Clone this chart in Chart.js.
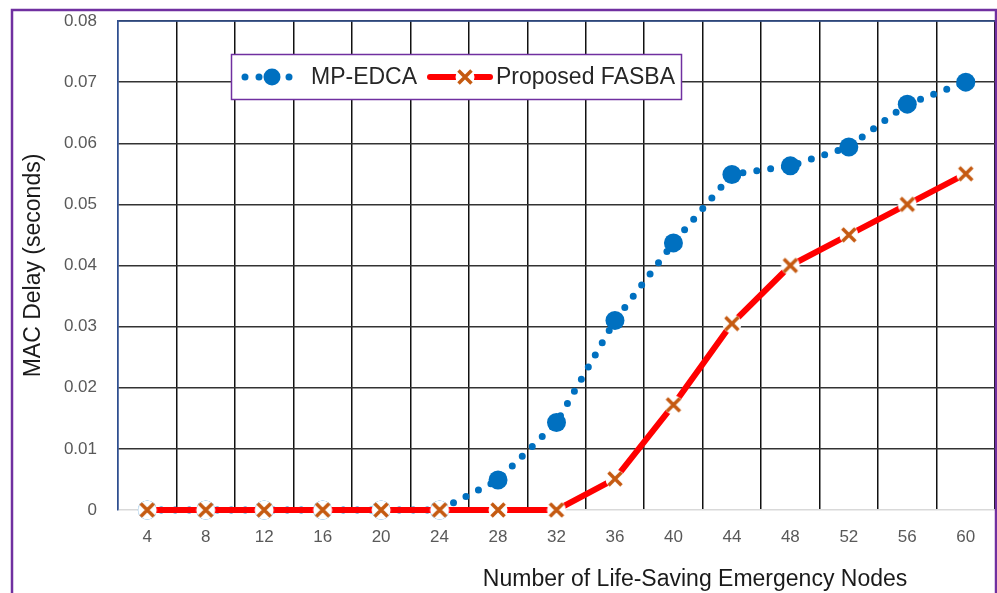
<!DOCTYPE html>
<html>
<head>
<meta charset="utf-8">
<script src="https://cdn.jsdelivr.net/npm/chart.js@4.4.1/dist/chart.umd.min.js"></script>
<style>
  html, body { margin: 0; padding: 0; background: #ffffff; }
  #wrap { width: 997px; height: 593px; position: relative; }
</style>
</head>
<body>
<div id="wrap"><canvas id="chart" width="997" height="593"></canvas></div>
<script>
// Number of life-saving emergency nodes
const nodeCounts = ['4', '8', '12', '16', '20', '24', '28', '32', '36', '40', '44', '48', '52', '56', '60'];
// MAC delay in seconds
const mpEdcaDelay = [0, 0, 0, 0, 0, 0, 0.0049, 0.0143, 0.0310, 0.0437, 0.0549, 0.0563, 0.0594, 0.0664, 0.0700];
const fasbaDelay  = [0, 0, 0, 0, 0, 0, 0, 0, 0.0051, 0.0172, 0.0305, 0.0400, 0.0450, 0.0500, 0.0550];
const yTicks = [0, 0.01, 0.02, 0.03, 0.04, 0.05, 0.06, 0.07, 0.08];

const BLUE = '#0070C0';
const RED = '#FF0000';
const ORANGE = '#C55A11';
const PURPLE = '#7030A0';
const NAVY = '#2F4F8F';
const FONT = '"Liberation Sans", Arial, sans-serif';

// X marker on a white backing disk, so lines underneath break around it
function makeCrossMarker() {
  const c = document.createElement('canvas');
  c.width = 22; c.height = 22;
  const g = c.getContext('2d');
  g.fillStyle = '#ffffff';
  g.beginPath();
  g.arc(11, 11, 9.5, 0, Math.PI * 2);
  g.fill();
  g.strokeStyle = ORANGE;
  g.lineWidth = 3.5;
  g.beginPath();
  g.moveTo(4.5, 4.5); g.lineTo(17.5, 17.5);
  g.moveTo(17.5, 4.5); g.lineTo(4.5, 17.5);
  g.stroke();
  return c;
}
const crossMarker = makeCrossMarker();

// Outer frame, custom legend and x-axis title
const decorations = {
  id: 'decorations',
  afterDatasetsDraw(chart) {
    const ctx = chart.ctx;
    const a = chart.chartArea;
    ctx.save();
    // top edge of the plot
    ctx.strokeStyle = NAVY;
    ctx.lineWidth = 1.5;
    ctx.beginPath();
    ctx.moveTo(a.left, a.top);
    ctx.lineTo(a.right, a.top);
    ctx.stroke();

    // legend box
    const bx = 231.5, by = 54.5, bw = 450, bh = 45;
    ctx.fillStyle = '#ffffff';
    ctx.fillRect(bx, by, bw, bh);
    ctx.strokeStyle = PURPLE;
    ctx.lineWidth = 1.5;
    ctx.strokeRect(bx, by, bw, bh);
    const cy = by + bh / 2;
    ctx.fillStyle = BLUE;
    [[245, 3.5], [259, 3.5], [272, 8.5], [289, 3.5]].forEach(([x, r]) => {
      ctx.beginPath();
      ctx.arc(x, cy, r, 0, Math.PI * 2);
      ctx.fill();
    });
    ctx.strokeStyle = RED;
    ctx.lineWidth = 6;
    ctx.lineCap = 'round';
    ctx.beginPath();
    ctx.moveTo(430, cy); ctx.lineTo(490, cy);
    ctx.stroke();
    ctx.drawImage(crossMarker, 465 - 11, cy - 11);
    ctx.fillStyle = '#262626';
    ctx.font = '23px ' + FONT;
    ctx.textBaseline = 'middle';
    ctx.textAlign = 'left';
    ctx.fillText('MP-EDCA', 311, cy + 1);
    ctx.fillText('Proposed FASBA', 496, cy + 1);
    ctx.restore();
  },
  afterDraw(chart) {
    const ctx = chart.ctx;
    const a = chart.chartArea;
    ctx.save();
    ctx.fillStyle = '#1a1a1a';
    ctx.font = '23px ' + FONT;
    ctx.textAlign = 'center';
    ctx.textBaseline = 'middle';
    ctx.fillText('Number of Life-Saving Emergency Nodes', a.left + (a.right - a.left) * 0.658, 580);
    // outer frame
    ctx.strokeStyle = PURPLE;
    ctx.lineWidth = 2.5;
    ctx.strokeRect(12, 10, 984, 700);
    ctx.restore();
  }
};

new Chart(document.getElementById('chart'), {
  type: 'line',
  data: {
    labels: nodeCounts,
    datasets: [
      {
        label: 'MP-EDCA',
        data: mpEdcaDelay,
        order: 1,
        borderColor: BLUE,
        backgroundColor: BLUE,
        borderWidth: 7,
        borderDash: [0, 14],
        borderCapStyle: 'round',
        pointStyle: 'circle',
        pointRadius: 9.5,
        pointBackgroundColor: BLUE,
        pointBorderColor: BLUE,
        pointBorderWidth: 0,
        tension: 0,
        clip: false
      },
      {
        label: 'Proposed FASBA',
        data: fasbaDelay,
        order: 0,
        borderColor: RED,
        backgroundColor: ORANGE,
        borderWidth: 6,
        pointStyle: crossMarker,
        pointRadius: 11,
        tension: 0,
        clip: false
      }
    ]
  },
  options: {
    responsive: false,
    animation: false,
    devicePixelRatio: 1,
    layout: { autoPadding: false, padding: { top: 21, right: 2, left: 0, bottom: 0 } },
    plugins: {
      legend: { display: false },
      tooltip: { enabled: false }
    },
    scales: {
      x: {
        offset: true,
        grid: {
          offset: true,
          drawTicks: false,
          lineWidth: 1.5,
          color: (c) => (c.index === 0 ? NAVY : '#111111')
        },
        border: { display: false },
        ticks: {
          color: '#595959',
          font: { family: FONT, size: 17 },
          padding: 17,
          maxRotation: 0,
          autoSkip: false
        },
        afterFit(scale) {
          scale.height = 83;
          scale.paddingLeft = 0;
          scale.paddingRight = 0;
        }
      },
      y: {
        min: 0,
        max: 0.08,
        afterBuildTicks(scale) { scale.ticks = yTicks.map(v => ({ value: v })); },
        grid: {
          drawTicks: false,
          lineWidth: 1.5,
          color: (c) => (c.tick && c.tick.value === 0 ? '#d9d9d9' : '#333333')
        },
        border: { display: true, color: NAVY, width: 1.5 },
        ticks: {
          color: '#595959',
          font: { family: FONT, size: 17 },
          padding: 21,
          callback: (v) => (v === 0 ? '0' : Number(v).toFixed(2))
        },
        title: {
          display: true,
          text: 'MAC Delay (seconds)',
          color: '#1a1a1a',
          font: { family: FONT, size: 23 },
          padding: { top: 20, bottom: 0 }
        },
        afterFit(scale) {
          scale.width = 118;
          scale.paddingTop = 0;
          scale.paddingBottom = 0;
        }
      }
    }
  },
  plugins: [decorations]
});
</script>
</body>
</html>
